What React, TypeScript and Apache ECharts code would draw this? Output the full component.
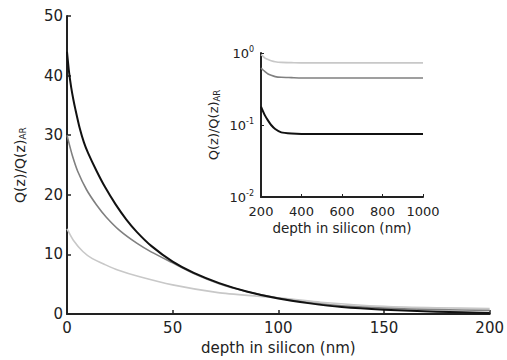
import React, { useEffect, useRef } from "react";
import * as echarts from "echarts";

// Main panel: depth (nm) vs normalized Q(z)
const depthBlack = [0, 1, 2, 3, 4, 6, 8, 10, 14, 18, 23, 28, 33, 40, 50, 60, 72, 85, 100, 115, 130, 150, 175, 200];
const blackMain = [44, 40.5, 38, 36, 34.3, 31.2, 28.8, 27, 24, 21.3, 18.4, 15.9, 13.8, 11.4, 8.8, 6.9, 5.2, 3.8, 2.6, 1.8, 1.2, 0.75, 0.4, 0.18];
const depthMid = [0, 1, 2.6, 5, 9.2, 14, 18.5, 25, 33, 40, 50, 60, 72, 85, 100, 115, 130, 150, 175, 200];
const midMain = [30, 28.6, 26.5, 24, 20.9, 18.3, 16.3, 14.0, 11.9, 10.4, 8.6, 6.8, 5.1, 3.8, 2.7, 1.9, 1.4, 1.0, 0.75, 0.62];
const depthLight = [0, 3, 7.5, 12, 18, 24, 34, 50, 71.5, 90, 104, 120, 150, 175, 200];
const lightMain = [14.3, 12.4, 10.5, 9.3, 8.3, 7.4, 6.3, 4.9, 3.6, 3.0, 2.6, 2.0, 1.3, 1.05, 0.95];

// Inset panel: deep region on a log scale
const depthInset = [200, 210, 220, 235, 250, 270, 300, 350, 400, 600, 800, 1000];
const blackInset = [0.18, 0.155, 0.135, 0.115, 0.1, 0.088, 0.079, 0.076, 0.075, 0.075, 0.075, 0.075];
const midInset = [0.62, 0.58, 0.55, 0.51, 0.49, 0.47, 0.46, 0.455, 0.45, 0.45, 0.45, 0.45];
const lightInset = [0.95, 0.9, 0.85, 0.81, 0.78, 0.755, 0.74, 0.735, 0.73, 0.73, 0.73, 0.73];

const mainTicksX = { min: 0, max: 200, interval: 50 };
const mainTicksY = { min: 0, max: 50, interval: 10 };
const insetTicksX = { min: 200, max: 1000, interval: 200 };

const FONT = "DejaVu Sans";
const TXT = "#222";

const pairs = (xs: number[], ys: number[]) => xs.map((x, i) => [x, ys[i]]);

export default function App() {
  const ref = useRef<HTMLDivElement>(null);

  useEffect(() => {
    if (!ref.current) return;
    const chart = echarts.init(ref.current, undefined, { renderer: "svg" });

    const axisLine = { show: true, lineStyle: { color: "#222", width: 2 } };
    const yName = "{a|Q(z)/Q(z)}{b|AR}";

    const line = (name: string, data: number[][], color: string, width: number, idx: number) => ({
      name,
      type: "line",
      data,
      xAxisIndex: idx,
      yAxisIndex: idx,
      showSymbol: false,
      symbol: "none",
      smooth: 0.2,
      lineStyle: { color, width, join: "round" },
      z: color === "#111" ? 5 : 3,
    });

    chart.setOption({
      animation: false,
      backgroundColor: "#fff",
      textStyle: { fontFamily: FONT, color: TXT },
      grid: [
        { left: 67, top: 16, right: 13, bottom: 44 },
        { left: 261, top: 53, width: 162, height: 144 },
      ],
      xAxis: [
        {
          type: "value",
          gridIndex: 0,
          ...mainTicksX,
          axisLine,
          axisTick: { show: true, inside: true, length: 4, lineStyle: { color: "#222", width: 1.5 } },
          axisLabel: { fontFamily: FONT, fontSize: 15, color: TXT, margin: 6 },
          splitLine: { show: false },
          name: "depth in silicon (nm)",
          nameLocation: "middle",
          nameGap: 25,
          nameTextStyle: { fontFamily: FONT, fontSize: 15, color: TXT },
        },
        {
          type: "value",
          gridIndex: 1,
          ...insetTicksX,
          axisLine,
          axisTick: { show: true, inside: true, length: 3, lineStyle: { color: "#222", width: 1 } },
          axisLabel: { fontFamily: FONT, fontSize: 13, color: TXT, margin: 8, formatter: (v: number) => String(v) },
          splitLine: { show: false },
          name: "depth in silicon (nm)",
          nameLocation: "middle",
          nameGap: 24,
          nameTextStyle: { fontFamily: FONT, fontSize: 13.5, color: TXT },
        },
      ],
      yAxis: [
        {
          type: "value",
          gridIndex: 0,
          ...mainTicksY,
          axisLine,
          axisTick: { show: true, inside: true, length: 4, lineStyle: { color: "#222", width: 1.5 } },
          axisLabel: { fontFamily: FONT, fontSize: 15, color: TXT, margin: 4 },
          splitLine: { show: false },
          name: yName,
          nameLocation: "middle",
          nameGap: 40,
          nameTextStyle: {
            fontFamily: FONT,
            color: TXT,
            rich: {
              a: { fontFamily: FONT, fontSize: 14, color: TXT },
              b: { fontFamily: FONT, fontSize: 9, color: TXT, verticalAlign: "bottom", padding: [6, 0, 0, 0] },
            },
          },
        },
        {
          type: "log",
          gridIndex: 1,
          logBase: 10,
          min: 0.01,
          max: 1,
          axisLine,
          axisTick: { show: true, inside: true, length: 3, lineStyle: { color: "#222", width: 1 } },
          axisLabel: {
            margin: 7,
            formatter: (v: number) => `{b|10}{s|${Math.round(Math.log10(v))}}`,
            rich: {
              b: { fontFamily: FONT, fontSize: 13, color: TXT },
              s: { fontFamily: FONT, fontSize: 8, color: TXT, verticalAlign: "top", padding: [0, 0, 8, 0] },
            },
          },
          splitLine: { show: false },
          minorTick: { show: false },
          name: yName,
          nameLocation: "middle",
          nameGap: 40,
          nameTextStyle: {
            fontFamily: FONT,
            color: TXT,
            rich: {
              a: { fontFamily: FONT, fontSize: 13, color: TXT },
              b: { fontFamily: FONT, fontSize: 8.5, color: TXT, verticalAlign: "bottom", padding: [6, 0, 0, 0] },
            },
          },
        },
      ],
      series: [
        line("light", pairs(depthLight, lightMain), "#c8c8c8", 1.6, 0),
        line("mid", pairs(depthMid, midMain), "#808080", 1.6, 0),
        line("black", pairs(depthBlack, blackMain), "#111", 2, 0),
        line("light-inset", pairs(depthInset, lightInset), "#c8c8c8", 1.6, 1),
        line("mid-inset", pairs(depthInset, midInset), "#808080", 1.6, 1),
        line("black-inset", pairs(depthInset, blackInset), "#111", 2, 1),
      ],
    });

    return () => chart.dispose();
  }, []);

  return (
    <div
      ref={ref}
      style={{ position: "fixed", left: 0, top: 0, width: 507, height: 360, background: "#fff" }}
    />
  );
}
